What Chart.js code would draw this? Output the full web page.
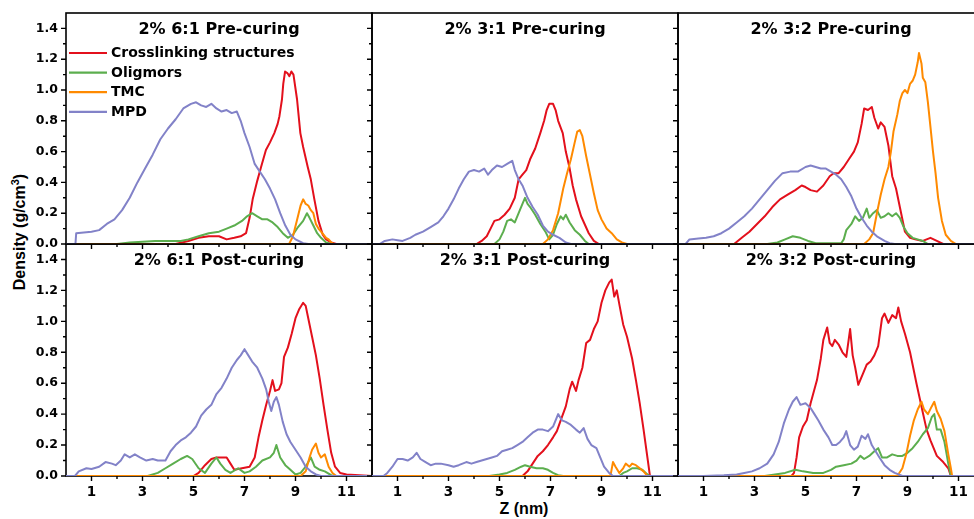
<!DOCTYPE html>
<html>
<head>
<meta charset="utf-8">
<title>Density profiles</title>
<script src="https://cdn.jsdelivr.net/npm/chart.js@4.4.0/dist/chart.umd.min.js"></script>
<style>
  html, body { margin: 0; padding: 0; background: #fff; overflow: hidden; }
  #wrap { position: relative; width: 974px; height: 519px; overflow: hidden; background: #fff; }
  #wrap canvas { position: absolute; }
  .ytitle {
    position: absolute; left: 20px; top: 232px;
    transform: translate(-50%, -50%) rotate(-90deg);
    font: bold 16px "Liberation Sans", Arial, sans-serif; white-space: nowrap; color: #000;
  }
  .ytitle sup { font-size: 11px; line-height: 0; }
  .xtitle {
    position: absolute; left: 524px; top: 500px; transform: translateX(-50%);
    font: bold 16px "Liberation Sans", Arial, sans-serif; white-space: nowrap; color: #000;
  }
</style>
</head>
<body>
<div id="wrap">
  <div class="ytitle">Density (g/cm<sup>3</sup>)</div>
  <div class="xtitle">Z (nm)</div>
</div>
<script>
"use strict";

// legend names and colours, same order in every panel
let seriesNames = ["Crosslinking structures", "Oligmors", "TMC", "MPD"];
let seriesColors = ["#e3101c", "#5cae4e", "#ff8a00", "#8282c8"];
let panelTitles = [
  "2% 6:1 Pre-curing", "2% 3:1 Pre-curing", "2% 3:2 Pre-curing",
  "2% 6:1 Post-curing", "2% 3:1 Post-curing", "2% 3:2 Post-curing"
];
let xTickLabels = [1, 3, 5, 7, 9, 11];
let yTickLabels = [0.0, 0.2, 0.4, 0.6, 0.8, 1.0, 1.2, 1.4];

// [Z (nm), density (g/cm3)]
// 2% 6:1 pre-curing
let pre61Cross = [[0,0],[4.3,0],[4.8,0.02],[5.2,0.04],[5.6,0.05],[6.0,0.05],[6.3,0.03],[6.6,0.04],[6.85,0.05],[7.06,0.07],[7.2,0.17],[7.32,0.29],[7.5,0.41],[7.65,0.5],[7.84,0.61],[8.0,0.66],[8.17,0.72],[8.3,0.78],[8.37,0.83],[8.47,0.94],[8.52,1.04],[8.59,1.12],[8.68,1.11],[8.76,1.09],[8.84,1.12],[8.92,1.1],[9.06,0.94],[9.19,0.72],[9.3,0.63],[9.48,0.5],[9.6,0.42],[9.74,0.29],[9.9,0.15],[10.07,0.06],[10.2,0.03],[10.4,0.01],[10.6,0],[12,0]];
let pre61Olig = [[0,0],[2.0,0],[2.5,0.01],[3.0,0.015],[3.5,0.02],[4.0,0.02],[4.5,0.02],[4.8,0.03],[5.2,0.05],[5.6,0.07],[6.0,0.08],[6.3,0.1],[6.6,0.12],[6.9,0.15],[7.1,0.18],[7.3,0.2],[7.5,0.18],[7.7,0.16],[7.9,0.16],[8.1,0.14],[8.3,0.11],[8.5,0.07],[8.7,0.04],[8.9,0.06],[9.1,0.11],[9.3,0.15],[9.45,0.2],[9.55,0.17],[9.7,0.12],[9.85,0.07],[10.0,0.04],[10.2,0.01],[10.4,0],[12,0]];
let pre61Tmc = [[0,0],[8.75,0],[8.9,0.05],[9.05,0.15],[9.2,0.25],[9.3,0.29],[9.4,0.26],[9.5,0.25],[9.6,0.22],[9.7,0.2],[9.8,0.13],[9.9,0.1],[10.0,0.08],[10.1,0.06],[10.2,0.04],[10.3,0.03],[10.4,0.01],[10.5,0],[12,0]];
let pre61Mpd = [[0,0],[0.37,0],[0.4,0.07],[0.7,0.075],[1.0,0.08],[1.3,0.09],[1.6,0.13],[1.9,0.16],[2.2,0.22],[2.5,0.3],[2.8,0.4],[3.1,0.49],[3.4,0.58],[3.7,0.68],[4.0,0.75],[4.3,0.81],[4.6,0.88],[4.9,0.91],[5.1,0.92],[5.3,0.9],[5.5,0.89],[5.7,0.91],[5.9,0.88],[6.1,0.86],[6.3,0.87],[6.5,0.85],[6.7,0.86],[6.85,0.8],[7.0,0.72],[7.2,0.63],[7.4,0.52],[7.6,0.47],[7.8,0.42],[8.0,0.36],[8.2,0.29],[8.4,0.2],[8.6,0.12],[8.8,0.06],[9.0,0.03],[9.3,0.005],[9.5,0],[12,0]];

// 2% 3:1 pre-curing
let pre31Cross = [[0,0],[4.1,0],[4.3,0.02],[4.5,0.05],[4.65,0.1],[4.8,0.15],[5.0,0.16],[5.2,0.19],[5.4,0.23],[5.6,0.3],[5.75,0.42],[5.9,0.45],[6.05,0.48],[6.2,0.55],[6.4,0.62],[6.6,0.72],[6.75,0.8],[6.85,0.87],[6.95,0.91],[7.1,0.91],[7.2,0.87],[7.3,0.8],[7.48,0.72],[7.6,0.6],[7.74,0.5],[7.87,0.38],[8.0,0.29],[8.2,0.18],[8.5,0.07],[8.7,0.02],[8.9,0],[12,0]];
let pre31Olig = [[0,0],[4.8,0],[5.0,0.03],[5.15,0.08],[5.3,0.15],[5.45,0.16],[5.6,0.14],[5.75,0.2],[5.9,0.26],[6.0,0.3],[6.1,0.26],[6.2,0.24],[6.4,0.19],[6.6,0.13],[6.8,0.08],[6.95,0.03],[7.1,0.06],[7.25,0.13],[7.4,0.18],[7.5,0.16],[7.6,0.19],[7.75,0.14],[7.95,0.09],[8.15,0.06],[8.35,0.02],[8.5,0],[12,0]];
let pre31Tmc = [[0,0],[6.7,0],[6.9,0.03],[7.1,0.09],[7.3,0.2],[7.5,0.36],[7.65,0.46],[7.8,0.55],[7.95,0.66],[8.05,0.73],[8.15,0.74],[8.25,0.7],[8.4,0.57],[8.55,0.45],[8.7,0.33],[8.85,0.22],[9.0,0.16],[9.2,0.1],[9.4,0.07],[9.6,0.03],[9.8,0.01],[10.0,0],[12,0]];
let pre31Mpd = [[0,0],[0.3,0],[0.5,0.02],[0.8,0.03],[1.0,0.025],[1.2,0.02],[1.5,0.04],[1.7,0.06],[2.0,0.08],[2.3,0.11],[2.6,0.14],[2.8,0.18],[3.0,0.23],[3.2,0.29],[3.4,0.36],[3.6,0.42],[3.8,0.47],[4.0,0.48],[4.2,0.47],[4.4,0.49],[4.55,0.45],[4.7,0.48],[4.9,0.51],[5.1,0.5],[5.3,0.52],[5.5,0.54],[5.6,0.48],[5.75,0.42],[5.9,0.38],[6.1,0.3],[6.3,0.24],[6.5,0.19],[6.7,0.12],[6.9,0.08],[7.1,0.06],[7.35,0.04],[7.6,0.01],[7.8,0],[12,0]];

// 2% 3:2 pre-curing
let pre32Cross = [[0,0],[2.2,0],[2.5,0.04],[2.8,0.08],[3.1,0.13],[3.4,0.18],[3.7,0.24],[4.0,0.29],[4.3,0.32],[4.6,0.35],[4.85,0.38],[5.0,0.37],[5.2,0.35],[5.45,0.34],[5.7,0.38],[5.95,0.44],[6.1,0.46],[6.3,0.46],[6.5,0.5],[6.7,0.55],[6.9,0.6],[7.05,0.66],[7.2,0.78],[7.3,0.88],[7.45,0.87],[7.6,0.89],[7.7,0.82],[7.85,0.75],[7.95,0.79],[8.1,0.76],[8.25,0.64],[8.4,0.44],[8.55,0.36],[8.75,0.2],[8.9,0.08],[9.1,0.04],[9.3,0.03],[9.6,0.02],[9.9,0.04],[10.15,0.02],[10.4,0],[12,0]];
let pre32Olig = [[0,0],[3.5,0],[3.9,0.01],[4.2,0.03],[4.5,0.05],[4.8,0.04],[5.1,0.02],[5.4,0.005],[6.4,0.005],[6.5,0.03],[6.6,0.09],[6.8,0.13],[6.95,0.18],[7.1,0.15],[7.25,0.17],[7.4,0.23],[7.5,0.17],[7.65,0.2],[7.8,0.22],[7.95,0.17],[8.1,0.18],[8.25,0.2],[8.4,0.18],[8.55,0.2],[8.7,0.17],[8.85,0.11],[9.0,0.07],[9.2,0.04],[9.4,0.03],[9.6,0.02],[9.8,0],[12,0]];
let pre32Tmc = [[0,0],[7.3,0],[7.5,0.03],[7.65,0.07],[7.8,0.2],[7.95,0.32],[8.1,0.42],[8.25,0.5],[8.35,0.6],[8.45,0.73],[8.6,0.84],[8.7,0.93],[8.8,0.98],[8.9,1.0],[9.0,0.98],[9.1,1.04],[9.2,1.06],[9.3,1.1],[9.4,1.18],[9.45,1.24],[9.55,1.17],[9.6,1.08],[9.7,1.05],[9.8,0.92],[9.9,0.76],[10.0,0.6],[10.1,0.46],[10.2,0.3],[10.35,0.15],[10.5,0.06],[10.7,0.02],[10.9,0],[12,0]];
let pre32Mpd = [[0,0],[0.3,0],[0.45,0.03],[0.8,0.035],[1.1,0.04],[1.4,0.05],[1.7,0.07],[2.0,0.1],[2.3,0.14],[2.6,0.18],[2.9,0.23],[3.2,0.29],[3.5,0.35],[3.8,0.41],[4.1,0.46],[4.4,0.47],[4.7,0.47],[5.0,0.5],[5.2,0.51],[5.4,0.5],[5.6,0.49],[5.8,0.49],[6.0,0.47],[6.2,0.45],[6.4,0.42],[6.6,0.37],[6.8,0.31],[7.0,0.23],[7.2,0.17],[7.4,0.12],[7.6,0.08],[7.8,0.05],[8.1,0.02],[8.3,0.005],[8.5,0],[12,0]];

// 2% 6:1 post-curing
let post61Cross = [[0,0],[5.0,0],[5.2,0.02],[5.45,0.07],[5.7,0.11],[5.9,0.12],[6.1,0.12],[6.3,0.12],[6.45,0.08],[6.6,0.04],[6.9,0.05],[7.2,0.06],[7.4,0.12],[7.55,0.25],[7.7,0.36],[7.85,0.46],[8.0,0.55],[8.1,0.62],[8.2,0.55],[8.35,0.56],[8.45,0.6],[8.55,0.77],[8.7,0.83],[8.85,0.92],[9.0,1.02],[9.15,1.08],[9.3,1.12],[9.4,1.1],[9.5,1.02],[9.65,0.9],[9.8,0.78],[9.95,0.63],[10.1,0.46],[10.25,0.3],[10.4,0.15],[10.55,0.06],[10.75,0.02],[11.0,0.01],[11.5,0.005],[12,0]];
let post61Olig = [[0,0],[3.2,0],[3.6,0.02],[3.9,0.05],[4.2,0.08],[4.5,0.11],[4.75,0.13],[4.95,0.11],[5.2,0.05],[5.45,0.02],[5.7,0.08],[5.9,0.12],[6.05,0.08],[6.25,0.04],[6.45,0.02],[6.75,0.05],[7.0,0.02],[7.2,0.03],[7.45,0.06],[7.7,0.1],[8.0,0.12],[8.15,0.15],[8.25,0.2],[8.4,0.12],[8.6,0.07],[8.8,0.04],[9.0,0.01],[9.2,0.02],[9.4,0.06],[9.6,0.12],[9.75,0.06],[9.95,0.04],[10.15,0.03],[10.4,0.005],[10.5,0],[12,0]];
let post61Tmc = [[0,0],[9.2,0],[9.4,0.03],[9.55,0.12],[9.65,0.17],[9.8,0.21],[9.9,0.15],[10.0,0.12],[10.15,0.14],[10.3,0.06],[10.45,0.02],[10.6,0],[12,0]];
let post61Mpd = [[0,0],[0.35,0],[0.5,0.03],[0.8,0.05],[1.0,0.045],[1.3,0.06],[1.55,0.09],[1.8,0.08],[1.95,0.07],[2.15,0.1],[2.3,0.14],[2.5,0.12],[2.7,0.14],[2.9,0.12],[3.15,0.1],[3.4,0.11],[3.6,0.1],[3.9,0.1],[4.1,0.16],[4.3,0.2],[4.5,0.23],[4.7,0.25],[4.9,0.28],[5.1,0.32],[5.3,0.39],[5.5,0.43],[5.7,0.46],[5.9,0.53],[6.1,0.57],[6.3,0.63],[6.5,0.7],[6.7,0.75],[6.85,0.78],[7.0,0.82],[7.15,0.78],[7.3,0.74],[7.5,0.7],[7.7,0.63],[7.85,0.56],[7.95,0.48],[8.05,0.42],[8.15,0.48],[8.25,0.51],[8.35,0.46],[8.5,0.35],[8.65,0.27],[8.8,0.22],[9.0,0.17],[9.2,0.12],[9.4,0.06],[9.6,0.03],[9.8,0.01],[10.0,0],[12,0]];

// 2% 3:1 post-curing
let post31Cross = [[0,0],[5.9,0],[6.1,0.03],[6.3,0.08],[6.5,0.13],[6.7,0.16],[6.9,0.2],[7.1,0.25],[7.25,0.29],[7.4,0.36],[7.6,0.45],[7.75,0.56],[7.85,0.61],[8.0,0.55],[8.1,0.62],[8.25,0.7],[8.4,0.86],[8.55,0.88],[8.7,0.95],[8.85,1.0],[9.0,1.12],[9.15,1.2],[9.3,1.25],[9.4,1.27],[9.5,1.16],[9.6,1.2],[9.7,1.11],[9.85,0.98],[10.0,0.9],[10.2,0.76],[10.35,0.62],[10.5,0.47],[10.65,0.3],[10.8,0.12],[10.9,0],[12,0]];
let post31Olig = [[0,0],[4.6,0],[5.0,0.01],[5.3,0.02],[5.6,0.04],[5.85,0.06],[6.0,0.07],[6.2,0.06],[6.45,0.05],[6.7,0.05],[6.9,0.04],[7.1,0.02],[7.3,0.005],[7.5,0],[9.7,0],[9.85,0.02],[10.0,0.03],[10.2,0.05],[10.4,0.05],[10.6,0.04],[10.8,0.01],[10.9,0],[12,0]];
let post31Tmc = [[0,0],[9.35,0],[9.45,0.09],[9.55,0.06],[9.7,0.02],[9.85,0.05],[9.95,0.08],[10.1,0.06],[10.2,0.08],[10.35,0.07],[10.5,0.05],[10.65,0.03],[10.8,0],[12,0]];
let post31Mpd = [[0,0],[0.45,0],[0.6,0.02],[0.8,0.06],[1.0,0.11],[1.2,0.11],[1.4,0.1],[1.6,0.12],[1.75,0.15],[1.9,0.11],[2.1,0.09],[2.3,0.07],[2.5,0.08],[2.7,0.08],[3.0,0.07],[3.2,0.06],[3.4,0.07],[3.7,0.09],[3.9,0.08],[4.1,0.09],[4.3,0.1],[4.5,0.11],[4.7,0.12],[4.9,0.13],[5.1,0.16],[5.3,0.17],[5.5,0.18],[5.7,0.2],[5.9,0.22],[6.1,0.25],[6.3,0.28],[6.5,0.3],[6.7,0.3],[6.9,0.29],[7.1,0.32],[7.3,0.4],[7.45,0.36],[7.6,0.35],[7.8,0.33],[8.0,0.3],[8.15,0.28],[8.3,0.31],[8.45,0.24],[8.6,0.2],[8.8,0.18],[8.95,0.12],[9.1,0.06],[9.3,0.02],[9.45,0],[12,0]];

// 2% 3:2 post-curing
let post32Cross = [[0,0],[4.45,0],[4.55,0.02],[4.65,0.12],[4.75,0.25],[4.9,0.32],[5.05,0.36],[5.2,0.47],[5.45,0.62],[5.6,0.76],[5.7,0.88],[5.85,0.96],[5.95,0.86],[6.05,0.84],[6.15,0.88],[6.3,0.85],[6.45,0.8],[6.6,0.77],[6.75,0.95],[6.85,0.78],[6.95,0.7],[7.07,0.59],[7.25,0.66],[7.4,0.72],[7.55,0.74],[7.7,0.78],[7.85,0.84],[8.0,1.02],[8.1,1.05],[8.25,0.99],[8.4,1.04],[8.55,1.02],[8.64,1.09],[8.75,1.0],[8.9,0.92],[9.1,0.8],[9.35,0.6],[9.6,0.41],[9.75,0.3],[9.9,0.23],[10.15,0.13],[10.4,0.09],[10.6,0.05],[10.7,0],[12,0]];
let post32Olig = [[0,0],[3.4,0],[3.8,0.01],[4.2,0.02],[4.6,0.04],[4.9,0.03],[5.3,0.02],[5.7,0.02],[6.0,0.04],[6.2,0.06],[6.5,0.07],[6.8,0.08],[7.0,0.1],[7.15,0.13],[7.3,0.11],[7.5,0.13],[7.7,0.16],[7.85,0.18],[8.0,0.12],[8.2,0.12],[8.4,0.14],[8.6,0.13],[8.8,0.13],[9.0,0.15],[9.2,0.18],[9.4,0.22],[9.6,0.27],[9.8,0.31],[9.95,0.38],[10.05,0.4],[10.15,0.3],[10.3,0.3],[10.45,0.22],[10.6,0.08],[10.7,0],[12,0]];
let post32Tmc = [[0,0],[8.6,0],[8.8,0.05],[8.95,0.14],[9.1,0.26],[9.25,0.36],[9.4,0.43],[9.55,0.48],[9.65,0.43],[9.8,0.4],[9.95,0.45],[10.05,0.48],[10.15,0.42],[10.3,0.37],[10.45,0.29],[10.6,0.14],[10.7,0.05],[10.75,0],[12,0]];
let post32Mpd = [[0,0],[1.0,0],[1.8,0.005],[2.3,0.01],[2.6,0.02],[2.9,0.03],[3.2,0.05],[3.5,0.08],[3.75,0.14],[3.95,0.22],[4.15,0.34],[4.35,0.43],[4.5,0.48],[4.65,0.51],[4.8,0.46],[5.0,0.47],[5.2,0.44],[5.35,0.4],[5.5,0.36],[5.7,0.3],[5.9,0.25],[6.05,0.2],[6.2,0.2],[6.35,0.22],[6.5,0.25],[6.6,0.29],[6.75,0.2],[6.9,0.17],[7.05,0.19],[7.2,0.26],[7.35,0.24],[7.45,0.27],[7.6,0.2],[7.75,0.16],[7.9,0.12],[8.1,0.07],[8.3,0.04],[8.5,0.02],[8.8,0],[12,0]];

let panelData = [
  [pre61Cross, pre61Olig, pre61Tmc, pre61Mpd],
  [pre31Cross, pre31Olig, pre31Tmc, pre31Mpd],
  [pre32Cross, pre32Olig, pre32Tmc, pre32Mpd],
  [post61Cross, post61Olig, post61Tmc, post61Mpd],
  [post31Cross, post31Olig, post31Tmc, post31Mpd],
  [post32Cross, post32Olig, post32Tmc, post32Mpd]
];

// plot boxes in page pixels
let colLeft = [66, 372, 678];
let rowTop = [13, 244];
let rowBottom = [244, 476];
let plotWidth = 306;

let boldFont = '"DejaVu Sans", sans-serif';

// frame, minor/major tick marks, panel title and legend
let panelPlugin = {
  id: "panelDeco",
  beforeDatasetsDraw(chart) {
    let ctx = chart.ctx;
    let a = chart.chartArea;
    let xs = chart.scales.x;
    let ys = chart.scales.y;
    ctx.save();
    ctx.strokeStyle = "#000";
    ctx.lineWidth = 1.6;
    ctx.strokeRect(a.left, a.top, a.right - a.left, a.bottom - a.top);
    ctx.lineWidth = 1.4;
    ctx.beginPath();
    for (let v = 1; v < 12; v++) {
      let x = xs.getPixelForValue(v);
      let len = v % 2 === 1 ? 5 : 3;
      ctx.moveTo(x, a.bottom);
      ctx.lineTo(x, a.bottom + len);
    }
    for (let k = 0; k < 15; k++) {
      let y = ys.getPixelForValue(k / 10);
      let len = k % 2 === 0 ? 5 : 3;
      ctx.moveTo(a.left, y);
      ctx.lineTo(a.left - len, y);
    }
    ctx.stroke();
    ctx.restore();
  },
  afterDatasetsDraw(chart, args, opts) {
    let ctx = chart.ctx;
    let a = chart.chartArea;
    ctx.save();
    ctx.fillStyle = "#000";
    ctx.font = "bold 16px " + boldFont;
    ctx.textAlign = "center";
    ctx.textBaseline = "alphabetic";
    ctx.fillText(opts.title, (a.left + a.right) / 2, a.top + 21);
    if (opts.legend) {
      ctx.font = "bold 14px " + boldFont;
      ctx.textAlign = "left";
      ctx.textBaseline = "middle";
      ctx.lineWidth = 2.2;
      for (let i = 0; i < seriesNames.length; i++) {
        let y = a.top + 40 + i * 19.6;
        ctx.strokeStyle = seriesColors[i];
        ctx.beginPath();
        ctx.moveTo(a.left + 3, y);
        ctx.lineTo(a.left + 41, y);
        ctx.stroke();
        ctx.fillText(seriesNames[i], a.left + 45, y + 0.5);
      }
    }
    ctx.restore();
  }
};

function makePanel(index) {
  let row = Math.floor(index / 3);
  let col = index % 3;
  let padL = col === 0 ? 66 : 8;
  let padR = 6;
  let padT = 6;
  let padB = row === 1 ? 519 - rowBottom[1] : 8;
  let h = rowBottom[row] - rowTop[row];

  let canvas = document.createElement("canvas");
  canvas.width = padL + plotWidth + padR;
  canvas.height = padT + h + padB;
  canvas.style.left = colLeft[col] - padL + "px";
  canvas.style.top = rowTop[row] - padT + "px";
  canvas.style.width = canvas.width + "px";
  canvas.style.height = canvas.height + "px";
  document.getElementById("wrap").appendChild(canvas);

  let datasets = [];
  let series = panelData[index];
  for (let i = 0; i < series.length; i++) {
    datasets.push({
      label: seriesNames[i],
      data: series[i],
      borderColor: seriesColors[i],
      borderWidth: 2,
      pointRadius: 0,
      tension: 0,
      fill: false,
      borderJoinStyle: "round",
      order: series.length - 1 - i
    });
  }

  return new Chart(canvas, {
    type: "line",
    data: { datasets: datasets },
    options: {
      responsive: false,
      animation: false,
      devicePixelRatio: 1,
      layout: { autoPadding: false, padding: { left: 0, top: padT, right: padR, bottom: 0 } },
      plugins: {
        legend: { display: false },
        tooltip: { enabled: false },
        panelDeco: { title: panelTitles[index], legend: index === 0 }
      },
      scales: {
        x: {
          type: "linear",
          min: 0,
          max: 12,
          afterFit: (s) => {
            s.height = padB;
            s.paddingLeft = 0;
            s.paddingRight = 0;
          },
          border: { display: false },
          grid: { display: false, drawTicks: false },
          ticks: {
            display: row === 1,
            stepSize: 1,
            autoSkip: false,
            maxRotation: 0,
            padding: 8,
            color: "#000",
            font: { family: boldFont, weight: "bold", size: 13.5 },
            callback: (v) => (xTickLabels.includes(v) ? String(v) : "")
          }
        },
        y: {
          min: 0,
          max: 1.5,
          afterFit: (s) => {
            s.width = padL;
            s.paddingTop = 0;
            s.paddingBottom = 0;
          },
          border: { display: false },
          grid: { display: false, drawTicks: false },
          ticks: {
            display: col === 0,
            stepSize: 0.2,
            includeBounds: false,
            padding: 8,
            color: "#000",
            font: { family: boldFont, weight: "bold", size: 12.5 },
            callback: (v) => {
              let hit = yTickLabels.find((t) => Math.abs(t - v) < 1e-6);
              return hit === undefined ? "" : hit.toFixed(1);
            }
          }
        }
      }
    },
    plugins: [panelPlugin]
  });
}

let charts = [];
for (let i = 0; i < panelTitles.length; i++) {
  charts.push(makePanel(i));
}
</script>
</body>
</html>
